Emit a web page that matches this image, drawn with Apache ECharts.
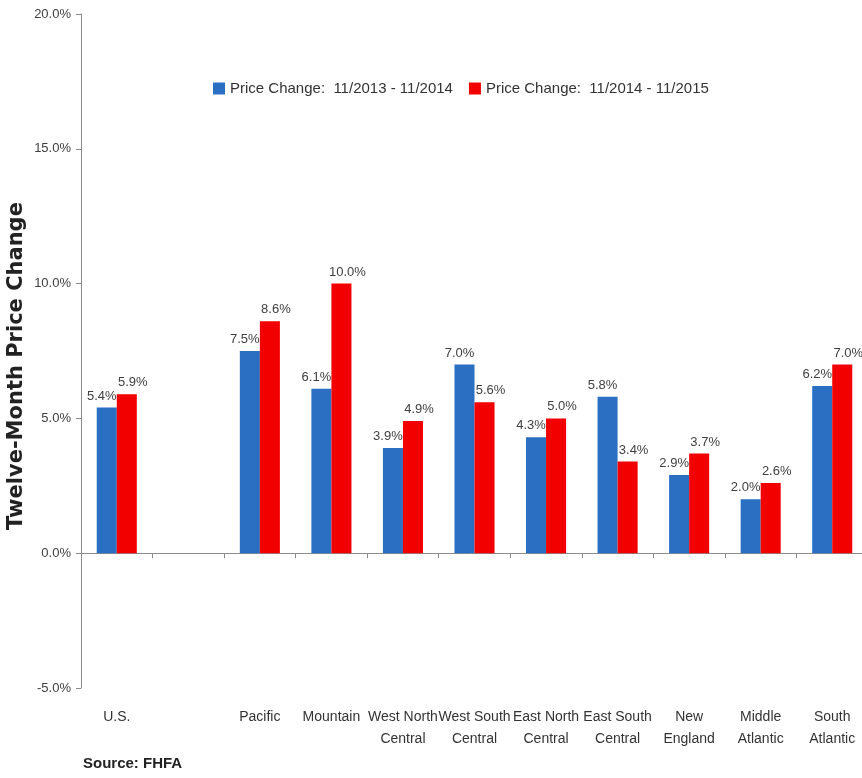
<!DOCTYPE html>
<html>
<head>
<meta charset="utf-8">
<script src="https://cdn.jsdelivr.net/npm/echarts@6/dist/echarts.min.js"></script>
<style>html,body{margin:0;padding:0;background:#fff}#c{width:862px;height:778px}</style>
</head>
<body>
<div id="c"></div>
<script>
var categories = ['U.S.', '', 'Pacific', 'Mountain', 'West North\nCentral', 'West South\nCentral', 'East North\nCentral', 'East South\nCentral', 'New\nEngland', 'Middle\nAtlantic', 'South\nAtlantic'];
var change2014 = [5.4, null, 7.5, 6.1, 3.9, 7.0, 4.3, 5.8, 2.9, 2.0, 6.2];
var change2015 = [5.9, null, 8.6, 10.0, 4.9, 5.6, 5.0, 3.4, 3.7, 2.6, 7.0];
var seriesNames = ['Price Change:  11/2013 - 11/2014', 'Price Change:  11/2014 - 11/2015'];
var yTicks = { min: -5, max: 20, interval: 5 };

var FONT = "'Liberation Sans Narrow', 'Liberation Sans', 'DejaVu Sans Condensed', sans-serif";
var chart = echarts.init(document.getElementById('c'));
function lbl(off) {
  return {
    show: true, position: 'top', offset: [off, 0], color: '#404040', fontSize: 13, fontFamily: FONT,
    formatter: function (p) { return p.value == null ? '' : p.value.toFixed(1) + '%'; }
  };
}
chart.setOption({
  animation: false,
  backgroundColor: '#fff',
  textStyle: { fontFamily: FONT },
  legend: {
    top: 76, left: 208, itemWidth: 12, itemHeight: 12, itemGap: 16, icon: 'rect',
    textStyle: { fontSize: 15, color: '#333', fontFamily: FONT },
    data: seriesNames
  },
  grid: { left: 81, top: 14, bottom: 90, width: 787, containLabel: false, outerBoundsMode: 'none' },
  xAxis: [
    {
      type: 'category', data: categories,
      axisLine: { onZero: true, lineStyle: { color: '#8c8c8c' } },
      axisTick: { show: true, length: 5, interval: 0, lineStyle: { color: '#8c8c8c' } },
      axisLabel: { show: false }
    },
    {
      type: 'category', data: categories, position: 'bottom',
      axisLine: { show: false, onZero: false }, axisTick: { show: false },
      axisLabel: { show: true, color: '#333', fontSize: 14, fontFamily: FONT, lineHeight: 22, margin: 18, interval: 0 }
    }
  ],
  yAxis: {
    type: 'value', min: yTicks.min, max: yTicks.max, interval: yTicks.interval,
    name: 'Twelve-Month Price Change', nameLocation: 'middle', nameGap: 54, nameMoveOverlap: false,
    nameTextStyle: { fontSize: 21, fontWeight: 'bold', color: '#222', fontFamily: "'DejaVu Sans', sans-serif", padding: [0, 0, 0, -30] },
    axisLine: { show: true, lineStyle: { color: '#8c8c8c' } },
    axisTick: { show: true, length: 5, lineStyle: { color: '#8c8c8c' } },
    splitLine: { show: false },
    axisLabel: { color: '#404040', fontSize: 13, fontFamily: FONT, margin: 10, formatter: function (v) { return v.toFixed(1) + '%'; } }
  },
  series: [
    { name: seriesNames[0], type: 'bar', data: change2014, barWidth: '28%', barGap: '0%', itemStyle: { color: '#2b6fc2' }, label: lbl(-5) },
    { name: seriesNames[1], type: 'bar', data: change2015, barWidth: '28%', barGap: '0%', itemStyle: { color: '#f20000' }, label: lbl(6) }
  ],
  graphic: [
    { type: 'text', left: 83, top: 756, style: { text: 'Source: FHFA', fontSize: 15, fontWeight: 'bold', fill: '#222', fontFamily: FONT } }
  ]
});
</script>
</body>
</html>
